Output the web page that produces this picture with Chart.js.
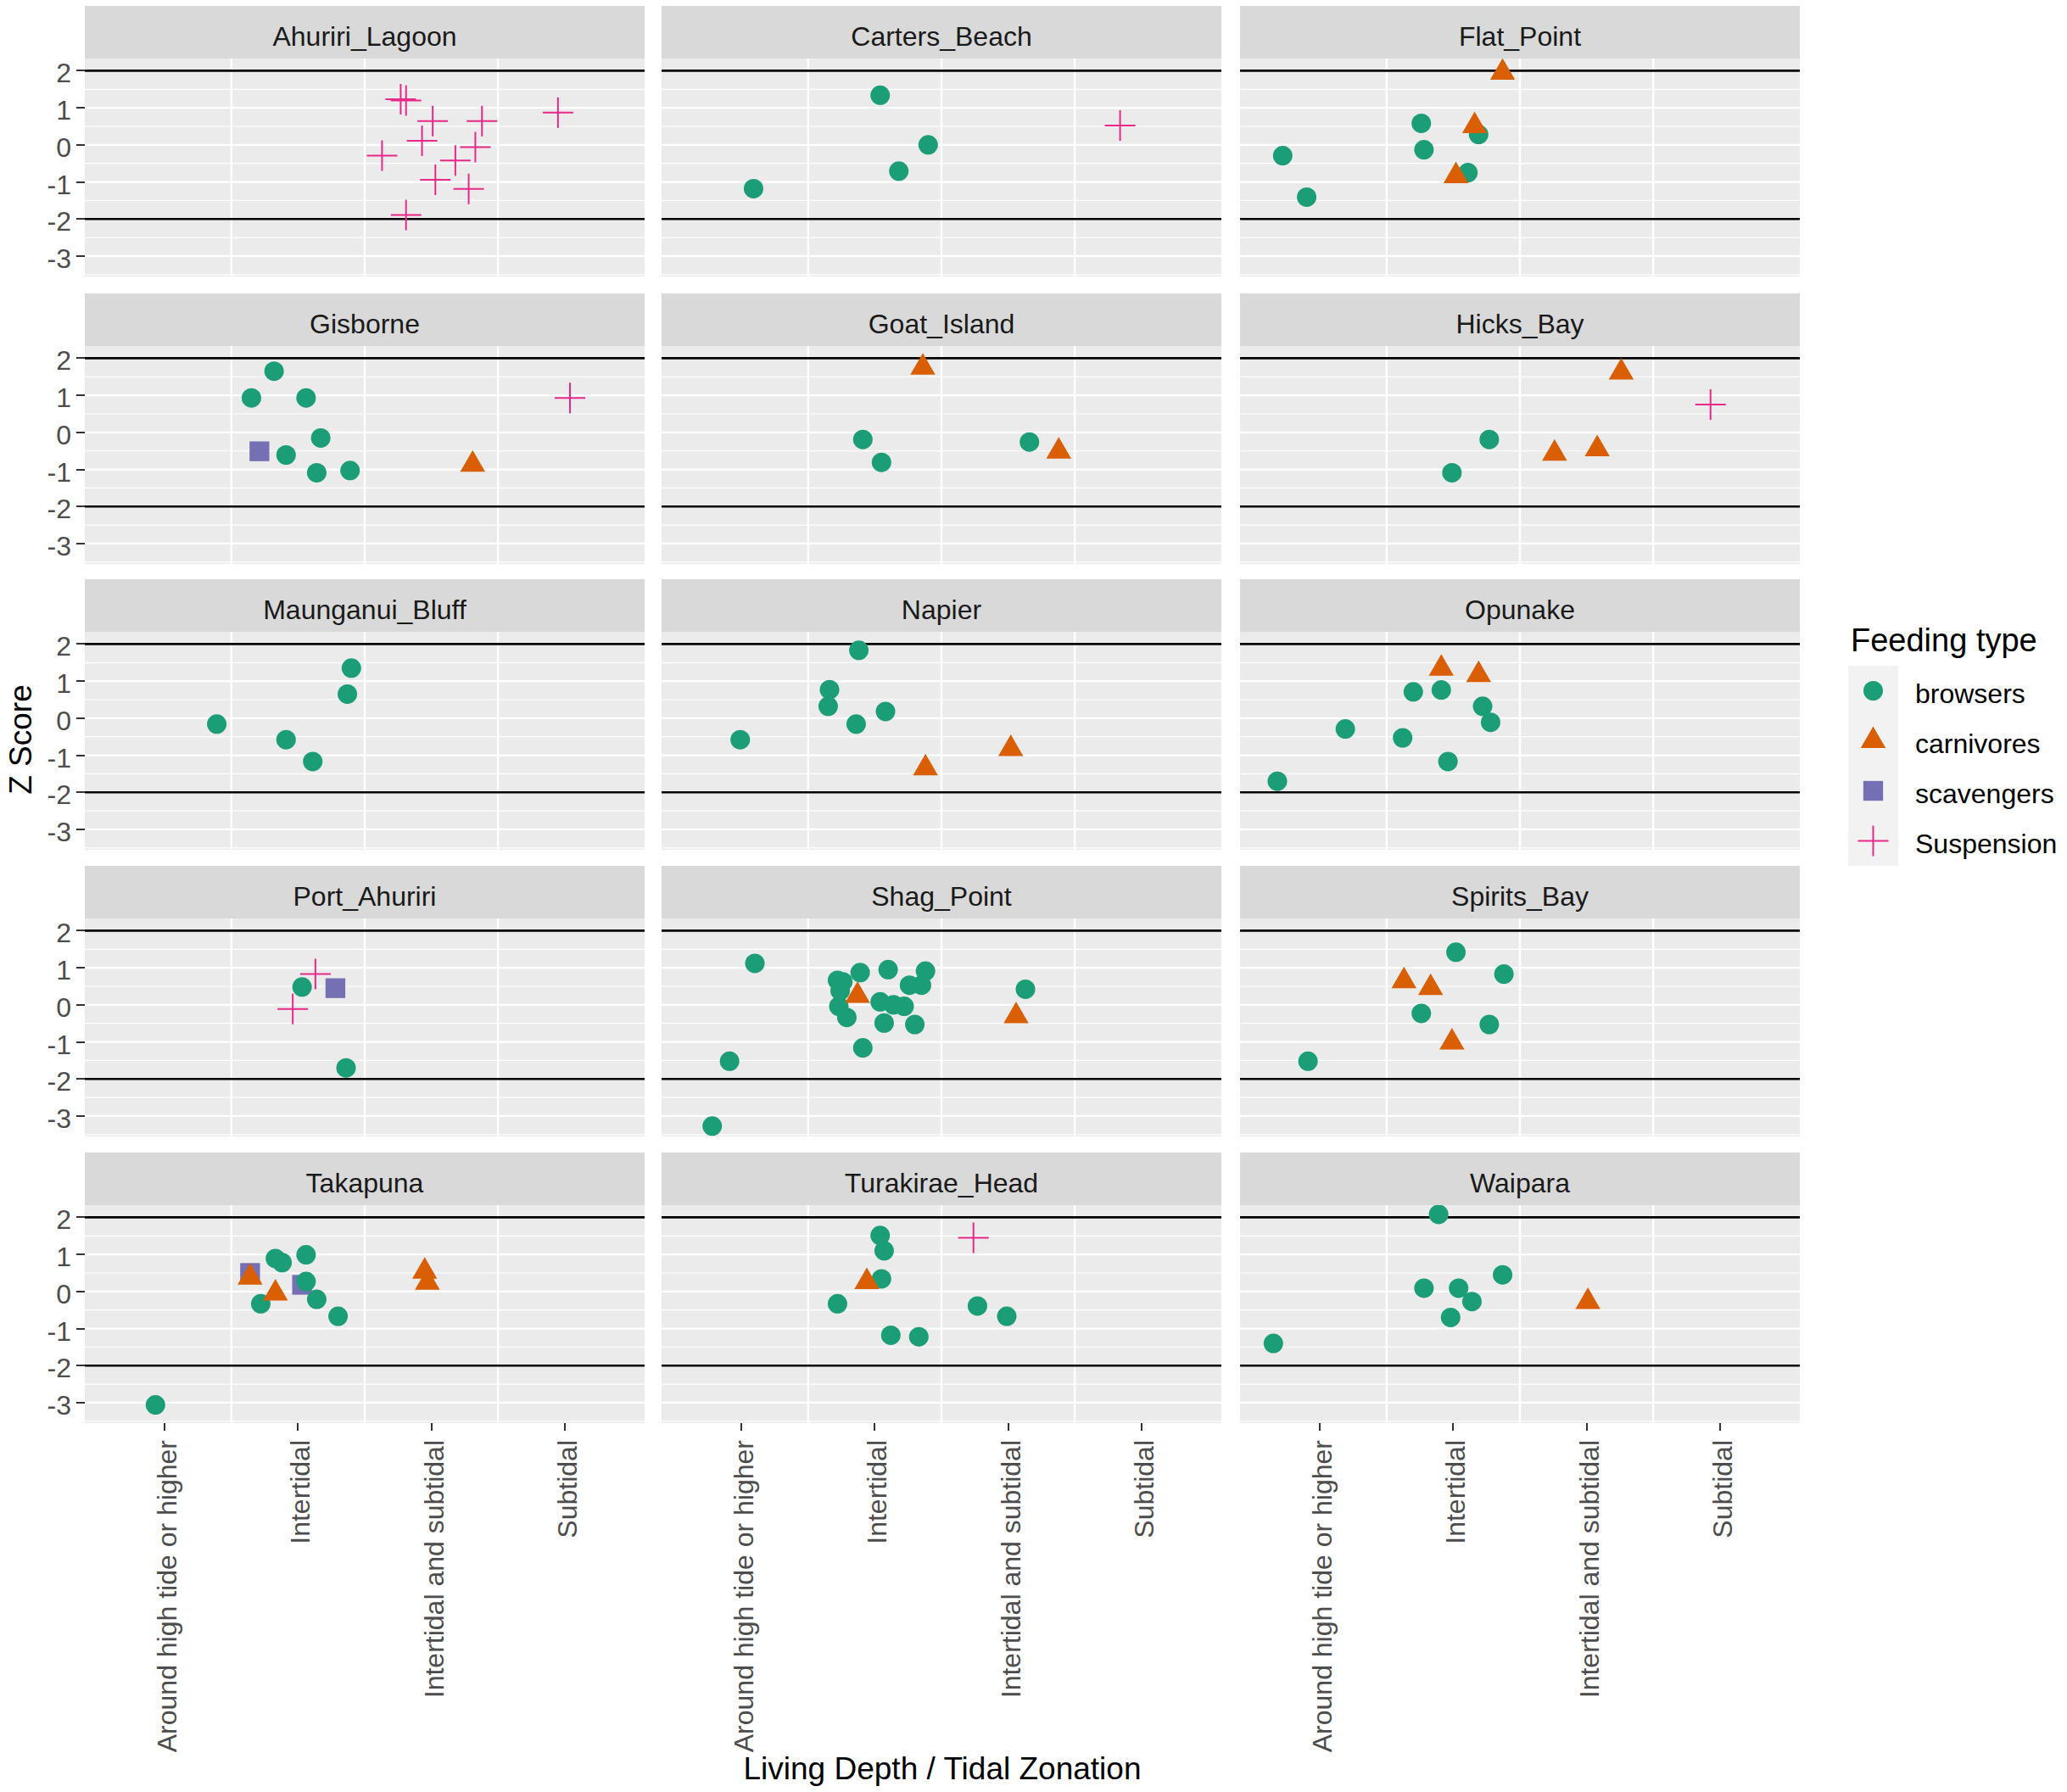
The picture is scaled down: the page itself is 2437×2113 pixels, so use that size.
<!DOCTYPE html>
<html><head><meta charset="utf-8">
<script src="https://cdn.jsdelivr.net/npm/chart.js@4.4.1/dist/chart.umd.min.js"></script>
<style>
html,body{margin:0;padding:0;background:#fff;}
body{width:2437px;height:2113px;position:relative;overflow:hidden;font-family:"Liberation Sans",Arial,sans-serif;}
.strip{position:absolute;background:#D9D9D9;}
.lbl{position:absolute;line-height:0;white-space:nowrap;}
.tick{position:absolute;background:#333333;}
canvas{position:absolute;}
</style></head><body>
<script>
// ---------------- data ----------------
const sites = ["Ahuriri_Lagoon","Carters_Beach","Flat_Point","Gisborne","Goat_Island","Hicks_Bay",
  "Maunganui_Bluff","Napier","Opunake","Port_Ahuriri","Shag_Point","Spirits_Bay",
  "Takapuna","Turakirae_Head","Waipara"];
const depthLabels = ["Around high tide or higher","Intertidal","Intertidal and subtidal","Subtidal"];
const yTickValues = [-3,-2,-1,0,1,2];
const feedingTypes = ["browsers","carnivores","scavengers","Suspension"];
const thresholdLines = [-2, 2];

// each point: [jittered depth position, Z score, feeding type index]
const pts_Ahuriri_Lagoon = [[2.77,1.23,3],[2.81,1.20,3],[3.01,0.64,3],[3.38,0.64,3],[3.95,0.87,3],[2.93,0.11,3],
  [3.33,-0.06,3],[2.63,-0.29,3],[3.18,-0.42,3],[3.03,-0.94,3],[3.28,-1.19,3],[2.81,-1.89,3]];
const pts_Carters_Beach = [[2.04,1.34,0],[2.40,0.00,0],[2.18,-0.71,0],[1.09,-1.18,0],[3.84,0.52,3]];
const pts_Flat_Point = [[2.37,1.95,1],[2.16,0.51,1],[1.76,0.58,0],[2.19,0.28,0],[1.78,-0.13,0],[0.72,-0.29,0],
  [2.02,-0.84,1],[2.11,-0.75,0],[0.90,-1.41,0]];
const pts_Gisborne = [[1.82,1.65,0],[1.65,0.93,0],[2.06,0.93,0],[2.17,-0.15,0],[1.71,-0.51,2],[1.91,-0.61,0],
  [2.14,-1.09,0],[2.39,-1.03,0],[3.31,-0.87,1],[4.04,0.93,3]];
const pts_Goat_Island = [[2.36,1.75,1],[1.91,-0.19,0],[2.05,-0.81,0],[3.16,-0.26,0],[3.38,-0.51,1]];
const pts_Hicks_Bay = [[3.26,1.62,1],[3.93,0.75,3],[2.27,-0.19,0],[2.76,-0.57,1],[3.08,-0.45,1],[1.99,-1.09,0]];
const pts_Maunganui_Bluff = [[2.40,1.35,0],[2.37,0.65,0],[1.39,-0.16,0],[1.91,-0.58,0],[2.11,-1.17,0]];
const pts_Napier = [[1.88,1.83,0],[1.66,0.77,0],[1.65,0.32,0],[2.08,0.18,0],[1.86,-0.16,0],[0.99,-0.58,0],
  [2.38,-1.35,1],[3.02,-0.83,1]];
const pts_Opunake = [[1.91,1.34,1],[2.19,1.17,1],[1.70,0.71,0],[1.91,0.76,0],[2.22,0.32,0],[2.28,-0.11,0],
  [1.19,-0.29,0],[1.62,-0.53,0],[1.96,-1.17,0],[0.68,-1.70,0]];
const pts_Port_Ahuriri = [[2.13,0.83,3],[2.03,0.48,0],[2.28,0.45,2],[1.96,-0.11,3],[2.36,-1.70,0]];
const pts_Shag_Point = [[1.10,1.12,0],[0.91,-1.52,0],[0.78,-3.27,0],[1.91,-1.16,0],[3.13,0.42,0],[1.72,0.66,0],
  [1.76,0.62,0],[1.89,0.87,0],[2.10,0.95,0],[2.38,0.91,0],[2.26,0.53,0],[2.35,0.53,0],[1.74,0.38,0],
  [1.73,-0.04,0],[1.79,-0.34,0],[2.04,0.08,0],[2.14,0.00,0],[2.22,-0.04,0],[2.07,-0.49,0],[2.30,-0.53,0],
  [3.06,-0.30,1],[1.87,0.25,1]];
const pts_Spirits_Bay = [[2.02,1.42,0],[2.38,0.83,0],[1.63,0.64,1],[1.83,0.46,1],[1.76,-0.23,0],[2.27,-0.53,0],
  [1.99,-1.01,1],[0.91,-1.52,0]];
const pts_Takapuna = [[0.93,-3.06,0],[1.64,0.50,2],[1.64,0.38,1],[1.83,0.89,0],[1.88,0.78,0],[2.06,0.99,0],
  [1.83,-0.05,1],[2.03,0.18,2],[2.06,0.27,0],[2.14,-0.21,0],[1.72,-0.33,0],[2.30,-0.67,0],[2.95,0.54,1],[2.97,0.24,1]];
const pts_Turakirae_Head = [[2.04,1.51,0],[2.07,1.10,0],[2.74,1.45,3],[1.94,0.26,1],[2.05,0.34,0],[1.72,-0.33,0],
  [2.77,-0.39,0],[2.99,-0.67,0],[2.12,-1.18,0],[2.33,-1.22,0]];
const pts_Waipara = [[1.89,2.08,0],[2.37,0.45,0],[1.78,0.09,0],[2.04,0.09,0],[2.14,-0.27,0],[1.98,-0.70,0],
  [0.65,-1.40,0],[3.01,-0.28,1]];

const sitePoints = [pts_Ahuriri_Lagoon,pts_Carters_Beach,pts_Flat_Point,pts_Gisborne,pts_Goat_Island,pts_Hicks_Bay,
  pts_Maunganui_Bluff,pts_Napier,pts_Opunake,pts_Port_Ahuriri,pts_Shag_Point,pts_Spirits_Bay,
  pts_Takapuna,pts_Turakirae_Head,pts_Waipara];

// ---------------- styles / layout ----------------
const typeColors = ["#1B9E77","#D95F02","#7570B3","#E7298A"];
const typeShapes = ["circle","triangle","rect","cross"];
const typeRadius = [11.5,17,16.5,18];
const typeOrder = [2,1,3,0];
const colLefts = [100,780,1462];
const plotTops = [69,408,745,1083,1421];
const panelW = 660, panelH = 257, stripH = 62;
const FAM = '"Liberation Sans", Arial, sans-serif';

function addDiv(cls, css, text){
  const d = document.createElement('div');
  d.className = cls;
  Object.assign(d.style, css);
  if (text !== undefined) d.textContent = text;
  document.body.appendChild(d);
  return d;
}
function fnt(px){ return px + 'px/0 ' + FAM; }

const panelPlugin = {
  id: 'panelGrid',
  beforeDatasetsDraw(chart){
    const {ctx, chartArea:a} = chart;
    const xs = chart.scales.x, ys = chart.scales.y;
    ctx.save();
    ctx.fillStyle = '#EBEBEB';
    ctx.fillRect(a.left, a.top, a.right - a.left, a.bottom - a.top);
    ctx.strokeStyle = '#FFFFFF';
    for (let k = -7; k <= 4; k++){
      const v = k / 2;
      const py = ys.getPixelForValue(v);
      ctx.lineWidth = (k % 2 === 0) ? 2.2 : 1.2;
      ctx.beginPath(); ctx.moveTo(a.left, py); ctx.lineTo(a.right, py); ctx.stroke();
    }
    ctx.lineWidth = 2.4;
    for (const v of [1.5,2.5,3.5]){
      const px = xs.getPixelForValue(v);
      ctx.beginPath(); ctx.moveTo(px, a.top); ctx.lineTo(px, a.bottom); ctx.stroke();
    }
    ctx.strokeStyle = '#000000';
    ctx.lineWidth = 2.6;
    for (const v of thresholdLines){
      const py = ys.getPixelForValue(v);
      ctx.beginPath(); ctx.moveTo(a.left, py); ctx.lineTo(a.right, py); ctx.stroke();
    }
    ctx.restore();
  }
};

sites.forEach((site, i) => {
  const col = i % 3, row = Math.floor(i / 3);
  const left = colLefts[col], top = plotTops[row];
  // strip
  addDiv('strip', {left:left+'px', top:(top-stripH)+'px', width:panelW+'px', height:stripH+'px'});
  addDiv('lbl', {left:left+'px', width:panelW+'px', top:(top-stripH+36)+'px', textAlign:'center',
    font:fnt(32), color:'#1A1A1A'}, site);
  // chart
  const cv = document.createElement('canvas');
  cv.width = panelW; cv.height = panelH;
  cv.style.left = left+'px'; cv.style.top = top+'px';
  cv.style.width = panelW+'px'; cv.style.height = panelH+'px';
  document.body.appendChild(cv);
  const pts = sitePoints[i];
  const datasets = feedingTypes.map((ft, t) => ({
    label: ft,
    data: pts.filter(p => p[2] === t).map(p => ({x:p[0], y:p[1]})),
    pointStyle: typeShapes[t],
    pointRadius: typeRadius[t],
    pointBackgroundColor: typeColors[t],
    pointBorderColor: typeColors[t],
    pointBorderWidth: t === 3 ? 2 : 0,
    order: typeOrder[t]
  }));
  const chart = new Chart(cv, {
    type: 'scatter',
    data: {datasets},
    options: {
      responsive: false, animation: false, events: [], devicePixelRatio: 1,
      layout: {padding: 0, autoPadding: false},
      plugins: {legend:{display:false}, tooltip:{enabled:false}},
      scales: {
        x: {type:'linear', min:0.4, max:4.6, display:false},
        y: {type:'linear', min:-3.55, max:2.33, display:false}
      }
    },
    plugins: [panelPlugin]
  });
  // y axis ticks & labels (left column)
  if (col === 0){
    yTickValues.forEach(v => {
      const py = top + chart.scales.y.getPixelForValue(v);
      addDiv('tick', {left:'90px', top:(py-1)+'px', width:'10px', height:'2px'});
      addDiv('lbl', {left:'84px', top:(py+3)+'px', transform:'translateX(-100%)',
        font:fnt(32), color:'#4D4D4D'}, String(v));
    });
  }
  // x axis ticks & labels (bottom row)
  if (row === 4){
    depthLabels.forEach((lab, k) => {
      const px = left + chart.scales.x.getPixelForValue(k + 1);
      const bottom = top + panelH;
      addDiv('tick', {left:(px-1)+'px', top:bottom+'px', width:'2px', height:'9px'});
      addDiv('lbl', {left:(px+3)+'px', top:(bottom+20)+'px', transformOrigin:'0 0',
        transform:'rotate(-90deg) translate(-100%, 0)', font:fnt(32), color:'#4D4D4D'}, lab);
    });
  }
});

// axis titles
addDiv('lbl', {left:'1111px', top:'2086px', transform:'translateX(-50%)', font:fnt(37), color:'#000'},
  'Living Depth / Tidal Zonation');
addDiv('lbl', {left:'25px', top:'872px', transformOrigin:'0 0', transform:'rotate(-90deg) translate(-50%, 0)',
  font:fnt(37), color:'#000'}, 'Z Score');

// legend
addDiv('lbl', {left:'2182px', top:'755px', font:fnt(38), color:'#000'}, 'Feeding type');
const keyTop = 785, keyH = 59, keyW = 59, keyLeft = 2179;
const lc = document.createElement('canvas');
lc.width = keyW; lc.height = keyH * 4;
lc.style.left = keyLeft+'px'; lc.style.top = keyTop+'px';
document.body.appendChild(lc);
const g = lc.getContext('2d');
g.fillStyle = '#F2F2F2'; g.fillRect(0, 0, keyW, keyH*4);
feedingTypes.forEach((ft, t) => {
  const cx = keyW/2, cy = keyH*t + keyH/2;
  const r = typeRadius[t];
  g.fillStyle = typeColors[t]; g.strokeStyle = typeColors[t];
  g.beginPath();
  if (typeShapes[t] === 'circle'){ g.arc(cx, cy, r, 0, Math.PI*2); g.fill(); }
  else if (typeShapes[t] === 'triangle'){
    g.moveTo(cx, cy - r); g.lineTo(cx + r*0.866, cy + r/2); g.lineTo(cx - r*0.866, cy + r/2); g.closePath(); g.fill();
  } else if (typeShapes[t] === 'rect'){
    const s = r * Math.SQRT1_2; g.rect(cx - s, cy - s, 2*s, 2*s); g.fill();
  } else {
    g.lineWidth = 2; g.moveTo(cx - r, cy); g.lineTo(cx + r, cy); g.moveTo(cx, cy - r); g.lineTo(cx, cy + r); g.stroke();
  }
  addDiv('lbl', {left:'2258px', top:(keyTop + keyH*t + keyH/2 + 3)+'px', font:fnt(32), color:'#000'}, ft);
});
</script>
</body></html>
